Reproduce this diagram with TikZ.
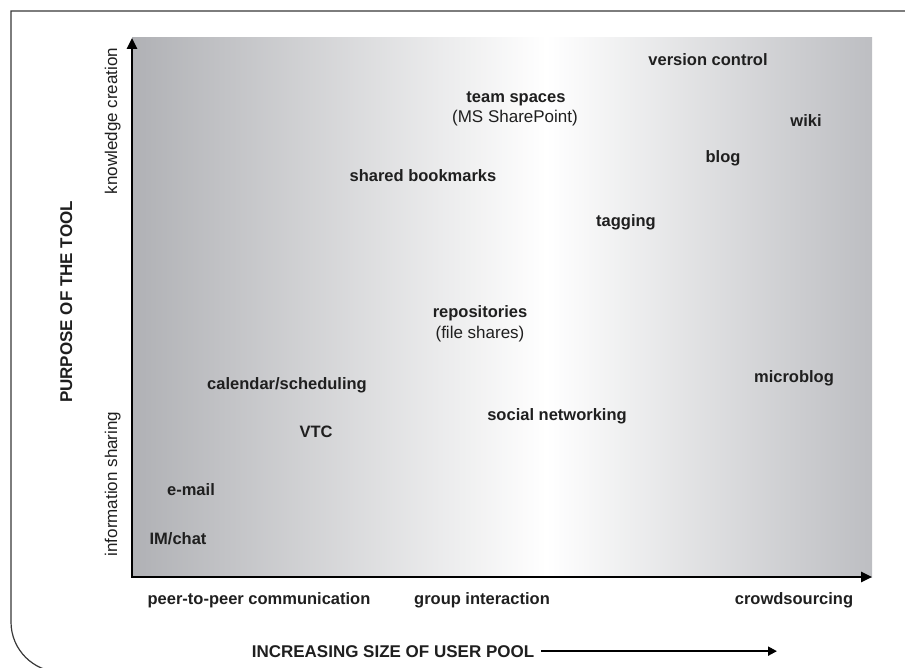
\documentclass[tikz,border=0pt]{standalone}
\usepackage{fontspec}
\setmainfont{Liberation Sans}
\usepackage{tikz}
\usetikzlibrary{arrows.meta}
\definecolor{poolL}{RGB}{176,177,181}
\definecolor{poolR}{RGB}{189,190,194}
\pgfdeclarehorizontalshading{poolgrad}{100bp}{color(0bp)=(poolL); color(25bp)=(poolL); color(53bp)=(white); color(75bp)=(poolR); color(100bp)=(poolR)}

\begin{document}
\begin{tikzpicture}[x=1pt,y=-1pt,
  tool/.style={font=\bfseries\fontsize{16.5}{19}\selectfont, text=black!88, inner sep=0pt, anchor=base},
  note/.style={font=\fontsize{17}{20}\selectfont, text=black!88, inner sep=0pt, anchor=base},
  caps/.style={font=\bfseries\fontsize{17}{20}\selectfont, text=black!88, inner sep=0pt, anchor=base},
  axis/.style={line width=2.6pt, line join=miter, arrows={Triangle[length=11pt,width=10pt]-Triangle[length=11pt,width=10pt]}}]
\def\cFrame{black!78}
\def\u{132}
\def\v{577}
\useasboundingbox (0,0) rectangle (905,668);
% frame, open to the right and bottom
\draw[\cFrame, line width=1.2pt] (905,11) -- (11,11) -- (11,622) arc[start angle=180, end angle=90, radius=50] -- (905,672);
% shaded plot area
\shade[shading=poolgrad] (\u,38) rectangle (872,\v);
\coordinate (O) at (\u,\v);
\coordinate (ytop) at (\u,38);
\coordinate (xend) at (872,\v);
\draw[axis] (ytop) -- (O) -- (xend);
% tools
\node[tool] (vc) at (708,66) {version control};
\node[tool] (ts) at (516,103) {team spaces};
\node[note] (sp) at (515,123) {(MS SharePoint)};
\node[tool] (wiki) at (806,127) {wiki};
\node[tool] (blog) at (723,163) {blog};
\node[tool] (sb) at (423,182) {shared bookmarks};
\node[tool] (tag) at (626,227) {tagging};
\node[tool] (rep) at (480,318) {repositories};
\node[note] (fs) at (480,338) {(file shares)};
\node[tool] (mb) at (794,382) {microblog};
\node[tool] (cal) at (287,389) {calendar/scheduling};
\node[tool] (soc) at (557,420) {social networking};
\node[tool] (vtc) at (316,437) {VTC};
\node[tool] (mail) at (191,495) {e-mail};
\node[tool] (im) at (178,544) {IM/chat};
% x axis
\node[tool] (p2p) at (259,604) {peer-to-peer communication};
\node[tool] (grp) at (482,604) {group interaction};
\node[tool] (crowd) at (794,604) {crowdsourcing};
\node[caps] (pool) at (393,657) {INCREASING SIZE OF USER POOL};
\coordinate (poolend) at (777,650);
\draw[line width=2pt, -{Triangle[length=9pt,width=9pt]}] ([xshift=7pt]pool.east) -- (pool.east -| poolend);
% y axis
\node[caps, rotate=90] (purpose) at (72,302) {PURPOSE OF THE TOOL};
\node[note, rotate=90] (know) at (117,121) {knowledge creation};
\node[note, rotate=90] (info) at (117,484) {information sharing};
\end{tikzpicture}
\end{document}
